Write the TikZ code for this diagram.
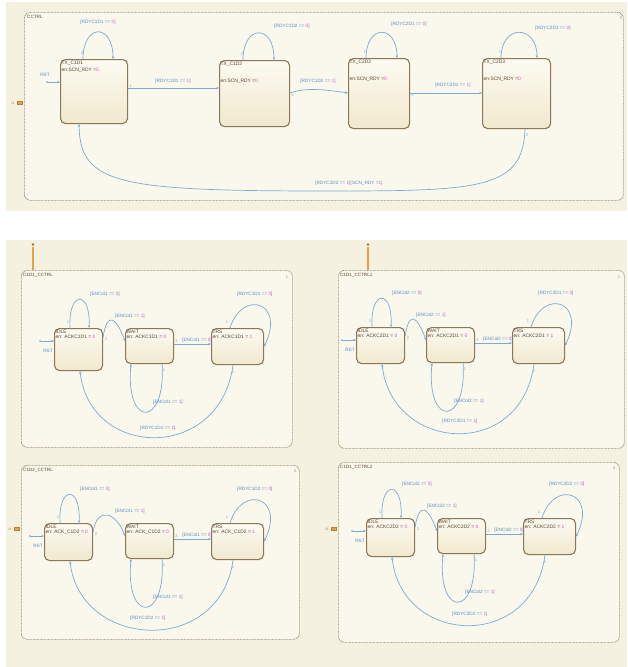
\documentclass[tikz,border=0pt]{standalone}
\usepackage{fontspec}
\setmainfont{Liberation Sans}
\usetikzlibrary{calc,arrows.meta}
\definecolor{bgc}{RGB}{245,241,224}
\definecolor{pfill}{RGB}{250,248,236}
\definecolor{pbc}{RGB}{150,140,120}
\definecolor{stc}{RGB}{140,118,88}
\definecolor{stt}{RGB}{252,250,242}
\definecolor{stb}{RGB}{241,233,206}
\definecolor{trc}{RGB}{125,170,210}
\definecolor{lbc}{RGB}{90,140,200}
\definecolor{valc}{RGB}{225,80,210}
\definecolor{txc}{RGB}{90,70,50}
\definecolor{orc}{RGB}{232,160,70}
\newcommand\val[1]{\textcolor{valc}{#1}}
\tikzset{
 tr/.style={draw=trc, line width=0.7pt, -{Stealth[length=2.8pt,width=2.4pt]}},
 stbox/.style={draw=stc, line width=1.1pt, rounded corners=5pt, top color=stt, bottom color=stb, anchor=north west, inner sep=0pt},
 sttxt/.style={anchor=north west, inner sep=0pt, font=\fontsize{4.9}{5.9}\selectfont, text=txc},
 lbl/.style={inner sep=0pt, font=\fontsize{4.7}{5.6}\selectfont, text=lbc},
 num/.style={inner sep=0pt, font=\fontsize{4}{4.5}\selectfont, text=trc},
 panel/.style={draw=pbc, line width=0.7pt, dash pattern=on 0.8pt off 0.6pt, rounded corners=6pt, fill=pfill, anchor=north west, inner sep=0pt},
 ptitle/.style={anchor=north west, inner sep=0pt, font=\fontsize{4.6}{5}\selectfont, text=txc},
 pnum/.style={inner sep=0pt, font=\fontsize{4}{4.5}\selectfont, text=pbc},
 port/.style={draw=orc!80!black, line width=0.3pt, fill=orc, minimum width=5pt, minimum height=3pt, inner sep=0pt},
 porttxt/.style={inner sep=0pt, font=\fontsize{3.2}{3.5}\selectfont, text=orc!70!black},
}
% name, x, y, w, h, title, entry, entry dy
\newcommand\stbox[8]{%
 \node[stbox, minimum width=#4pt, minimum height=#5pt] (#1) at (#2,#3) {};
 \node[sttxt] (#1ttl) at ($(#1.north west)+(1.5,1.5)$) {#6};
 \node[sttxt] (#1ent) at ($(#1.north west)+(1.5,#8)$) {#7};
}
% prefix, ix, iy, wx, tx, idle height
\newcommand\lowpanel[6]{%
 \stbox{#1i}{#2}{#3}{48}{#6}{IDLE}{en: \pAck{} = \val{0}}{7}
 \stbox{#1w}{#4}{#3}{48}{35}{WAIT}{en: \pAck{} = \val{0}}{7}
 \stbox{#1t}{#5}{#3}{52}{36}{TRS}{en: \pAck{} = \val{1}}{7}
 % IDLE self loop
 \draw[tr] ($(#1i.north west)+(16,0)$) .. controls +(-2,-38) and +(2,-38) .. ($(#1i.north west)+(35,0)$);
 \node[num] at ($(#1i.north west)+(14,-6)$) {1};
 \node[lbl, anchor=west] at ($(#1i.north west)+(36,-34)$) {[\pEnc{} == \val{0}]};
 % IDLE -> WAIT
 \draw[tr] ($(#1i.north east)+(0,9)$) .. controls +(4,-26) and +(-9,-24) .. ($(#1w.north west)+(0,13)$);
 \node[num] at ($(#1i.north east)+(3,11)$) {2};
 \node[lbl, anchor=west] at ($(#1w.north west)+(-10,-12)$) {[\pEnc{} == \val{1}]};
 % WAIT -> TRS
 \draw[tr] ($(#1w.north east)+(0,16)$) -- ($(#1t.north west)+(0,16)$);
 \node[num] at ($(#1w.north east)+(2.5,13)$) {2};
 \node[lbl, anchor=south east] at ($(#1t.north west)+(1,14.5)$) {[\pEnc{} == \val{0}]};
 % WAIT self loop below
 \draw[tr] ($(#1w.south east)+(-12,0)$) .. controls +(4,64) and +(-6,64) .. ($(#1w.south west)+(6,0)$);
 \node[num] at ($(#1w.south east)+(-10,6)$) {1};
 \node[lbl, anchor=west] at ($(#1w.south west)+(28,38)$) {[\pEnc{} == \val{1}]};
 % TRS self loop
 \draw[tr] ($(#1t.north west)+(19,0)$) .. controls +(12,-39) and +(22,-45) .. (#1t.east);
 \node[num] at ($(#1t.north west)+(16,-6)$) {1};
 \node[lbl, anchor=west] at ($(#1t.north west)+(26,-34)$) {[\pRdy{} == \val{0}]};
 % TRS -> IDLE
 \draw[tr] ($(#1t.south west)+(22,0)$) .. controls +(-13,97) and +(10,88) .. ($(#1i.south west)+(26,0)$);
 \node[num] at ($(#1t.south west)+(22,7)$) {2};
 \node[lbl, anchor=west] at ($(#1i.south west)+(86,57)$) {[\pRdy{} == \val{1}]};
 % default transition
 \coordinate (#1rst) at ($(#1i.north west)+(-14,13)$);
 \fill[trc] (#1rst) circle (0.8);
 \draw[tr] (#1rst) -- ($(#1i.north west)+(0,13)$);
 \node[lbl] at ($(#1i.north west)+(-6,23)$) {RST};
}
\begin{document}
\begin{tikzpicture}[x=1pt,y=-1pt]
\useasboundingbox (0,0) rectangle (627,667);
\fill[white] (0,0) rectangle (627,667);
\fill[bgc] (6,2) rectangle (627,211);
\fill[bgc] (6,240) rectangle (627,667);

% ===== top panel =====
\node[panel, minimum width=599pt, minimum height=188pt] (CC) at (24,12) {};
\node[ptitle] at (27,15) {CCTRL};
\node[pnum] at (621,18) {5};
\node[port] (pt0) at (20,103) {};
\node[porttxt] at (13,103) {f1};

\stbox{s1}{60}{59}{67}{64}{TX\_C1D1}{en:SCN\_RDY =\val{0}}{9}
\stbox{s2}{219}{60}{70}{66}{TX\_C1D2}{en:SCN\_RDY =\val{0}}{19}
\stbox{s3}{348}{58}{61}{70}{TX\_C2D2}{en:SCN\_RDY =\val{0}}{19}
\stbox{s4}{482}{58}{68}{70}{TX\_C2D3}{en:SCN\_RDY =\val{0}}{19}

% self loops
\draw[tr] ($(s1.north west)+(23,0)$) .. controls +(0,-36) and +(0,-36) .. ($(s1.north west)+(53,0)$);
\node[num] at ($(s1.north west)+(22,-6)$) {2};
\node[lbl] at ($(s1.north west)+(38,-37)$) {[RDYC1D1 == \val{0}]};
\draw[tr] ($(s2.north west)+(24,0)$) .. controls +(0,-36) and +(0,-36) .. ($(s2.north west)+(55,0)$);
\node[num] at ($(s2.north west)+(23,-6)$) {2};
\node[lbl] at ($(s2.north west)+(73,-34)$) {[RDYC1D2 == \val{0}]};
\draw[tr] ($(s3.north west)+(18,0)$) .. controls +(0,-34) and +(0,-34) .. ($(s3.north west)+(49,0)$);
\node[num] at ($(s3.north west)+(17,-6)$) {1};
\node[lbl] at ($(s3.north west)+(61,-34)$) {[RDYC2D1 == \val{0}]};
\draw[tr] ($(s4.north west)+(19,0)$) .. controls +(0,-34) and +(0,-34) .. ($(s4.north west)+(55,0)$);
\node[num] at ($(s4.north west)+(18,-6)$) {1};
\node[lbl] at ($(s4.north west)+(71,-30)$) {[RDYC2D2 == \val{0}]};

% forward transitions
\draw[tr] ($(s1.north east)+(0,29)$) -- ($(s2.north west)+(0,28)$);
\node[num] at ($(s1.north east)+(2.5,27)$) {1};
\node[lbl] at (173,81) {[RDYC1D1 == \val{1}]};
\draw[tr] ($(s2.north east)+(0,33)$) .. controls +(15,-6) and +(-20,-3) .. ($(s3.north west)+(0,35)$);
\node[num] at ($(s2.north east)+(2.5,35)$) {1};
\node[lbl] at (318,81) {[RDYC1D2 == \val{1}]};
\draw[tr] ($(s3.north east)+(0,35)$) -- ($(s4.north west)+(0,35)$);
\node[num] at ($(s3.north east)+(2.5,37)$) {2};
\node[lbl] at (453,85) {[RDYC2D1 == \val{1}]};
% back transition
\draw[tr] ($(s4.south west)+(43,0)$) .. controls +(-2,60) and (480,191) .. (330,191) .. controls (120,191) and (80,185) .. ($(s1.south west)+(19,0)$);
\node[num] at ($(s4.south west)+(45,6)$) {2};
\node[lbl, anchor=west] at (315,183) {[RDYC2D2 == \val{1}]\{SCN\_RDY =\val{1}\}};
% default
\coordinate (s1rst) at ($(s1.north west)+(-13,23)$);
\fill[trc] (s1rst) circle (0.8);
\draw[tr] (s1rst) -- ($(s1.north west)+(0,23)$);
\node[lbl] at ($(s1.north west)+(-15,16)$) {RST};

% ===== lower panels =====
\node[panel, minimum width=271pt, minimum height=177pt] (P1) at (21,270) {};
\node[panel, minimum width=286pt, minimum height=178pt] (P2) at (338,270) {};
\node[panel, minimum width=278pt, minimum height=174pt] (P3) at (21,465) {};
\node[panel, minimum width=281pt, minimum height=180pt] (P4) at (338,462) {};
\node[ptitle] at (23,273) {C1D1\_CCTRL};
\node[ptitle] at (340,273) {C1D1\_CCTRL1};
\node[ptitle] at (23,468) {C1D2\_CCTRL};
\node[ptitle] at (340,465) {C1D1\_CCTRL2};
\node[pnum] at (287,277) {1};
\node[pnum] at (619,277) {2};
\node[pnum] at (295,471) {3};
\node[pnum] at (614,468) {4};

% orange connectors above top row panels
\foreach \bx in {33,368} {
  \fill[orc] (\bx-1,247) rectangle (\bx+1,270);
  \fill[orc!70!black] (\bx,244.5) circle (1.3);
}
\node[port] (pt3) at (17,529) {};
\node[porttxt] at (10,529) {f1};
\node[port] (pt4) at (334,529) {};
\node[porttxt] at (327,529) {f2};

\def\pAck{ACKC1D1}\def\pEnc{ENCol1}\def\pRdy{RDYC1D1}
\lowpanel{a}{54}{328}{125}{211}{42}
\def\pAck{ACKC2D1}\def\pEnc{ENCol2}\def\pRdy{RDYC2D1}
\lowpanel{b}{356}{327}{426}{512}{36}
\def\pAck{ACK\_C1D2}\def\pEnc{ENCol1}\def\pRdy{RDYC1D2}
\lowpanel{c}{44}{523}{125}{211}{37}
\def\pAck{ACKC2D2}\def\pEnc{ENCol2}\def\pRdy{RDYC2D2}
\lowpanel{d}{366}{518}{437}{523}{38}
\end{tikzpicture}
\end{document}
